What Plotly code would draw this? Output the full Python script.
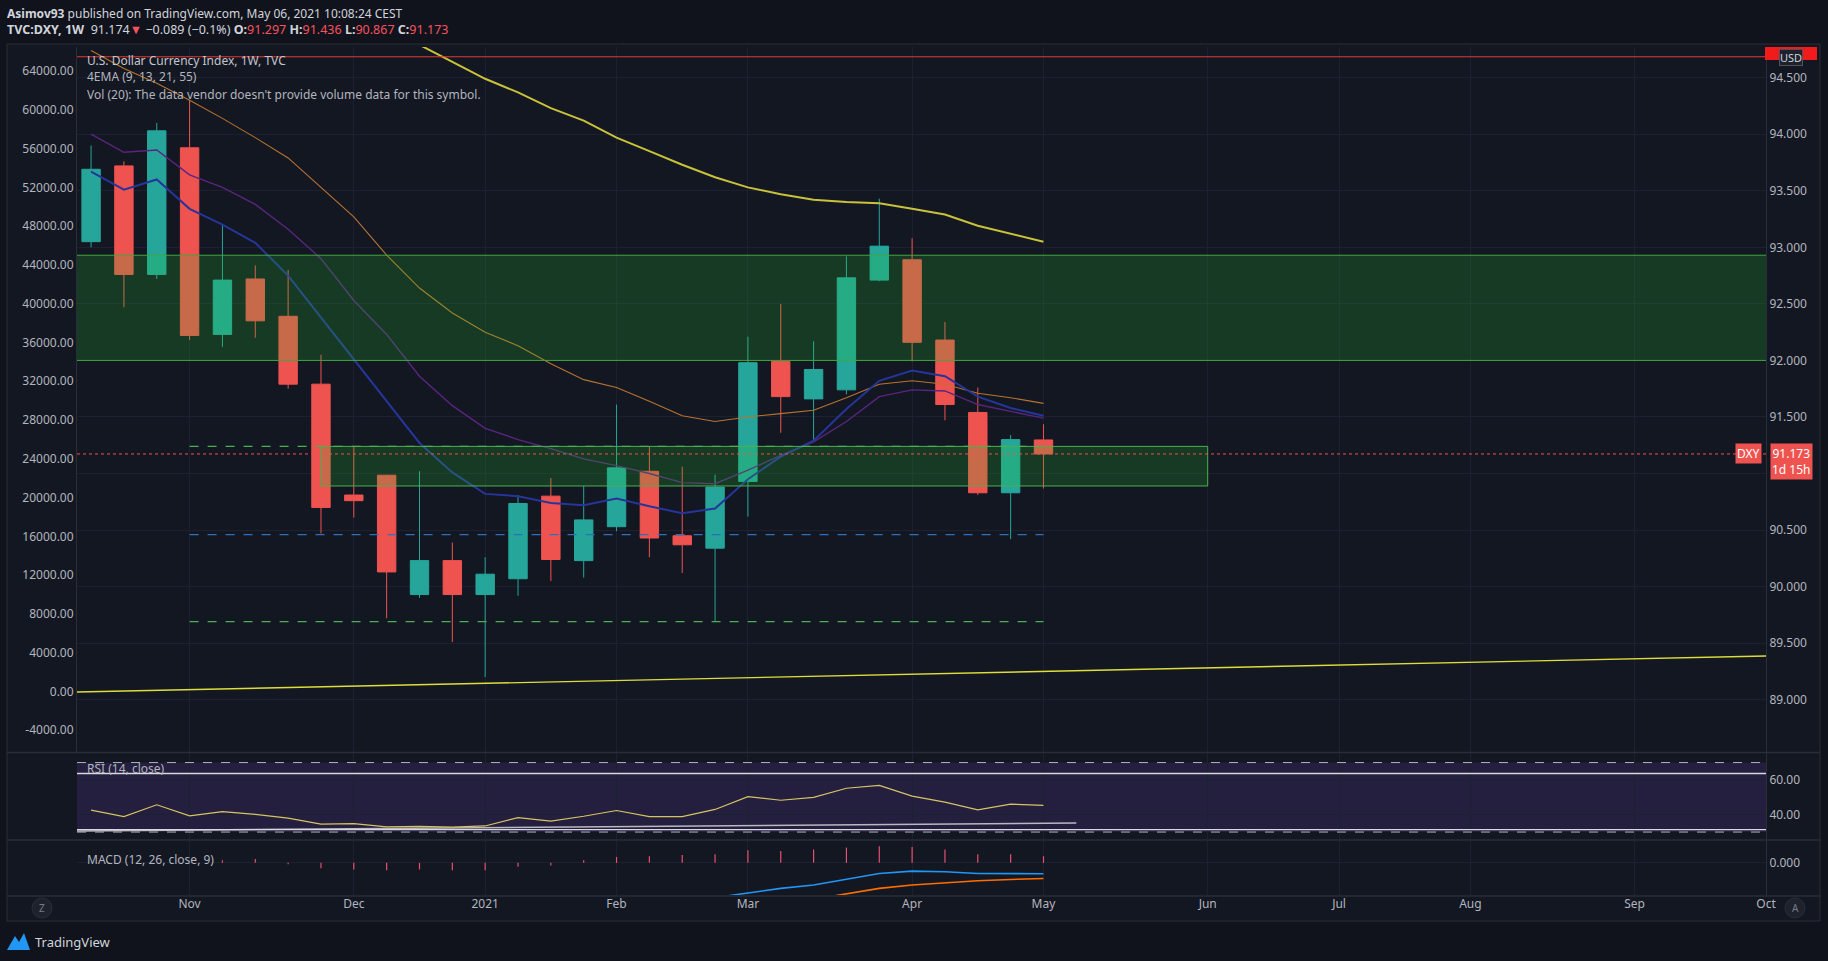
import plotly.graph_objects as go
import pandas as pd

# ---------------- data ----------------
dates = pd.date_range("2020-10-12", periods=30, freq="7D").strftime("%Y-%m-%d").tolist()

opens = [93.05, 93.72, 92.76, 93.88, 92.23, 92.72, 92.39, 91.79, 90.81, 90.985,
         89.93, 90.23, 89.93, 90.07, 90.80, 90.23, 90.53, 91.02, 90.45, 90.34,
         90.93, 91.99, 91.66, 91.74, 92.71, 92.89, 92.18, 91.54, 90.83, 91.297]
highs = [93.90, 93.76, 94.10, 94.30, 93.20, 92.84, 92.80, 92.05, 91.24, 90.99,
         91.02, 90.39, 90.26, 90.81, 90.96, 90.89, 91.61, 91.24, 91.06, 90.99,
         92.21, 92.50, 92.17, 92.92, 93.43, 93.08, 92.34, 91.76, 91.34, 91.436]
lows = [93.00, 92.47, 92.72, 92.18, 92.12, 92.20, 91.75, 90.47, 90.61, 89.72,
        89.90, 89.51, 89.20, 89.92, 90.05, 90.08, 90.49, 90.26, 90.12, 89.69,
        90.62, 91.36, 91.29, 91.70, 92.70, 91.99, 91.47, 90.81, 90.42, 90.867]
closes = [93.69, 92.76, 94.03, 92.22, 92.71, 92.35, 91.79, 90.70, 90.76, 90.13,
          90.23, 89.93, 90.11, 90.735, 90.24, 90.59, 91.05, 90.43, 90.37, 90.88,
          91.98, 91.68, 91.92, 92.73, 93.01, 92.16, 91.61, 90.83, 91.30, 91.173]

ema9 = [93.67, 93.51, 93.60, 93.34, 93.20, 93.04, 92.75, 92.38, 92.01, 91.64,
        91.27, 91.01, 90.82, 90.80, 90.74, 90.72, 90.78, 90.71, 90.65, 90.69,
        90.95, 91.15, 91.29, 91.57, 91.82, 91.91, 91.86, 91.68, 91.58, 91.51]
ema13 = [94.00, 93.84, 93.86, 93.64, 93.53, 93.38, 93.16, 92.90, 92.53, 92.23,
         91.86, 91.60, 91.40, 91.30, 91.22, 91.13, 91.07, 91.00, 90.92, 90.91,
         91.03, 91.16, 91.28, 91.46, 91.68, 91.74, 91.73, 91.61, 91.55, 91.49]
ema21 = [94.74, 94.58, 94.45, 94.30, 94.14, 93.97, 93.79, 93.53, 93.27, 92.93,
         92.64, 92.42, 92.25, 92.13, 91.97, 91.83, 91.76, 91.64, 91.51, 91.46,
         91.50, 91.53, 91.56, 91.67, 91.79, 91.82, 91.79, 91.71, 91.67, 91.62]
ema55 = [None, None, None, None, None, None, None, None, 95.12, 94.95,
         94.79, 94.64, 94.49, 94.37, 94.23, 94.12, 93.97, 93.85, 93.73, 93.62,
         93.53, 93.47, 93.42, 93.40, 93.39, 93.34, 93.29, 93.19, 93.12, 93.05]

rsi = [42.6, 38.9, 45.7, 39.3, 41.7, 40.2, 38.0, 34.6, 34.8, 33.0,
       33.3, 32.8, 33.5, 38.3, 36.3, 39.1, 42.4, 38.9, 38.9, 43.0,
       50.4, 48.3, 50.0, 55.2, 56.9, 50.7, 47.2, 42.8, 46.1, 45.4]

macd_hist = [None, None, None, None, 0.08, 0.12, -0.04, -0.16, -0.20, -0.22,
             -0.20, -0.22, -0.22, -0.12, -0.08, 0.08, 0.18, 0.20, 0.24, 0.26,
             0.38, 0.36, 0.40, 0.46, 0.50, 0.48, 0.40, 0.26, 0.26, 0.20]
macd_line = [None] * 19 + [-1.05, -0.92, -0.77, -0.67, -0.50, -0.32, -0.25, -0.27, -0.32, -0.32, -0.33]
macd_signal = [None] * 22 + [-1.10, -0.94, -0.77, -0.67, -0.60, -0.54, -0.50, -0.47]

# drawings
big_zone = [92.00, 92.93]
small_zone = [90.89, 91.24]
small_zone_x = ["2020-11-30", "2021-06-07"]
dash_levels = [91.24, 90.46, 89.69]
dash_colors = ["#4caf50", "#2f6fb8", "#4caf50"]
dash_x = ["2020-11-02", "2021-05-03"]
red_level = 94.685
last_price = 91.173
trend_x = ["2020-10-09", "2021-10-04"]
trend_y = [89.068, 89.387]
rsi_trend_x = ["2020-10-09", "2021-05-10"]
rsi_trend_y = [30.6, 35.2]
rsi_white_levels = [63.7, 31.4]
rsi_bands = [30, 70]

x_range = ["2020-10-09", "2021-10-04"]
x_tickvals = ["2020-11-02", "2020-12-07", "2021-01-04", "2021-02-01", "2021-03-01", "2021-04-05",
              "2021-05-03", "2021-06-07", "2021-07-05", "2021-08-02", "2021-09-06", "2021-10-04"]
x_ticktext = ["Nov", "Dec", "2021", "Feb", "Mar", "Apr", "May", "Jun", "Jul", "Aug", "Sep", "Oct"]
price_ticks = [89.0, 89.5, 90.0, 90.5, 91.0, 91.5, 92.0, 92.5, 93.0, 93.5, 94.0, 94.5]
price_ticktext = ["89.000", "89.500", "90.000", "90.500", "", "91.500",
                  "92.000", "92.500", "93.000", "93.500", "94.000", "94.500"]
vol_ticks = [-4000, 0, 4000, 8000, 12000, 16000, 20000, 24000, 28000, 32000,
             36000, 40000, 44000, 48000, 52000, 56000, 60000, 64000]

# ---------------- geometry helpers ----------------
W, H = 1828, 961
PL, PR, PT, PB = 77, 1766, 47, 895


def px(x):
    return (x - PL) / (PR - PL)


def py(y):
    return (PB - y) / (PB - PT)


TXT = "#b2b5be"
GRID = "#1c2030"
SEP = "#2a2e39"
RED = "#ef5350"
TEAL = "#26a69a"
ZONE_FILL = "rgba(39,198,44,0.2)"
FONT = "Noto Sans"

fig = go.Figure()

fig.add_trace(go.Candlestick(
    x=dates, open=opens, high=highs, low=lows, close=closes,
    increasing=dict(line=dict(color=TEAL, width=1), fillcolor=TEAL),
    decreasing=dict(line=dict(color=RED, width=1), fillcolor=RED),
    whiskerwidth=0, hoverinfo="skip", xaxis="x", yaxis="y"))

for vals, col, w in [(ema55, "#c9c23a", 2.0), (ema21, "#b8732f", 1.1),
                     (ema13, "#5a2580", 1.4), (ema9, "#26359a", 2.0)]:
    fig.add_trace(go.Scatter(x=dates, y=vals, mode="lines", line=dict(color=col, width=w),
                             hoverinfo="skip", yaxis="y"))

fig.add_trace(go.Scatter(x=trend_x, y=trend_y, mode="lines",
                         line=dict(color="#dede3a", width=1.4), hoverinfo="skip", yaxis="y"))

# empty left volume axis
fig.add_trace(go.Scatter(x=[dates[0]], y=[0], mode="markers", marker=dict(opacity=0),
                         hoverinfo="skip", yaxis="y2"))

# RSI
fig.add_trace(go.Scatter(x=rsi_trend_x, y=rsi_trend_y, mode="lines",
                         line=dict(color="#b8b8c0", width=1.5), hoverinfo="skip", yaxis="y3"))
fig.add_trace(go.Scatter(x=dates, y=rsi, mode="lines", line=dict(color="#d6c463", width=1.2),
                         hoverinfo="skip", yaxis="y3"))

# MACD
fig.add_trace(go.Bar(x=dates, y=macd_hist, marker=dict(color="#ef4f72", line=dict(width=0)),
                     width=1000 * 3600 * 24 * 0.25, hoverinfo="skip", yaxis="y4"))
fig.add_trace(go.Scatter(x=dates, y=macd_line, mode="lines", line=dict(color="#2196f3", width=1.6),
                         hoverinfo="skip", yaxis="y4"))
fig.add_trace(go.Scatter(x=dates, y=macd_signal, mode="lines", line=dict(color="#ff6d00", width=1.6),
                         hoverinfo="skip", yaxis="y4"))

shapes = []
# chart frame
shapes.append(dict(type="rect", xref="paper", yref="paper", x0=px(7), x1=px(1820), y0=py(921), y1=py(44),
                   fillcolor="#131722", line=dict(color=SEP, width=1), layer="below"))
# pane separators
for yy in [752.5, 840, 896]:
    shapes.append(dict(type="line", xref="paper", yref="paper", x0=px(7), x1=px(1820), y0=py(yy), y1=py(yy),
                       line=dict(color=SEP, width=1.5)))
# RSI band
shapes.append(dict(type="rect", xref="paper", yref="y3", x0=0, x1=1, y0=rsi_bands[0], y1=rsi_bands[1],
                   fillcolor="rgba(126,70,210,0.17)", line=dict(width=0), layer="below"))
for lv in rsi_bands:
    shapes.append(dict(type="line", xref="paper", yref="y3", x0=0, x1=1, y0=lv, y1=lv,
                       line=dict(color="#b0b3bc", width=1, dash="dash")))
for lv in rsi_white_levels:
    shapes.append(dict(type="line", xref="paper", yref="y3", x0=0, x1=1, y0=lv, y1=lv,
                       line=dict(color="#d8d8dc", width=1.3)))
# big green zone
shapes.append(dict(type="rect", xref="paper", yref="y", x0=0, x1=1, y0=big_zone[0], y1=big_zone[1],
                   fillcolor=ZONE_FILL, line=dict(width=0), layer="above"))
for lv in big_zone:
    shapes.append(dict(type="line", xref="paper", yref="y", x0=0, x1=1, y0=lv, y1=lv,
                       line=dict(color="#3fa83f", width=1), layer="above"))
# small zone
shapes.append(dict(type="rect", xref="x", yref="y", x0=small_zone_x[0], x1=small_zone_x[1],
                   y0=small_zone[0], y1=small_zone[1], fillcolor=ZONE_FILL,
                   line=dict(color="#4caf50", width=1), layer="above"))
# dashed levels
for lv, col in zip(dash_levels, dash_colors):
    shapes.append(dict(type="line", xref="x", yref="y", x0=dash_x[0], x1=dash_x[1], y0=lv, y1=lv,
                       line=dict(color=col, width=1.3, dash="dash"), layer="above"))
# red line and last price dotted line
shapes.append(dict(type="line", xref="paper", yref="y", x0=0, x1=1, y0=red_level, y1=red_level,
                   line=dict(color="#e53935", width=1.2), layer="above"))
shapes.append(dict(type="line", xref="paper", yref="y", x0=0, x1=1, y0=last_price, y1=last_price,
                   line=dict(color=RED, width=1, dash="dot"), layer="above"))
# top-right red price tag (covered by the USD button)
shapes.append(dict(type="rect", xref="paper", yref="paper", x0=px(1765), x1=px(1817), y0=py(60), y1=py(47),
                   fillcolor="#f21b1b", line=dict(width=0)))
# Z / A buttons
for cx in [42, 1795]:
    shapes.append(dict(type="circle", xref="paper", yref="paper", x0=px(cx - 10), x1=px(cx + 10),
                       y0=py(918), y1=py(898), fillcolor="#1e222d", line=dict(color="#2a2e39", width=1)))
# TradingView logo
shapes.append(dict(type="path", xref="paper", yref="paper",
                   path=f"M {px(7)} {py(950)} L {px(15)} {py(936)} L {px(19)} {py(942)} L {px(24)} {py(933)} "
                        f"L {px(30)} {py(950)} Z",
                   fillcolor="#2196f3", line=dict(width=0)))

ann = []


def note(x, y, text, size=12, color=TXT, xanchor="left", yanchor="middle", **kw):
    ann.append(dict(x=px(x), y=py(y), xref="paper", yref="paper", text=text, showarrow=False,
                    xanchor=xanchor, yanchor=yanchor, font=dict(family=FONT, size=size, color=color), **kw))


note(5, 13, "<b>Asimov93</b> published on TradingView.com, May 06, 2021 10:08:24 CEST", size=12, color="#d1d4dc")
r = "#f7525f"
note(5, 29, f"<b>TVC:DXY, 1W</b>  91.174<span style='color:{r}'>▼</span> −0.089 (−0.1%) "
            f"<b>O:</b><span style='color:{r}'>91.297</span> <b>H:</b><span style='color:{r}'>91.436</span> "
            f"<b>L:</b><span style='color:{r}'>90.867</span> <b>C:</b><span style='color:{r}'>91.173</span>",
     size=12.5, color="#d1d4dc")
note(85, 60, "U.S. Dollar Currency Index, 1W, TVC", size=12, color="#c3c6ce")
note(85, 77, "4EMA (9, 13, 21, 55)", size=12)
note(85, 94, "Vol (20): The data vendor doesn't provide volume data for this symbol.", size=12)
note(85, 768, "RSI (14, close)", size=12)
note(85, 859, "MACD (12, 26, close, 9)", size=12)
note(1791, 58, "USD", size=11, color="#d1d4dc", xanchor="center", bgcolor="#1e222d",
     bordercolor="#50535e", borderwidth=1, borderpad=0)
note(1748, 453, "DXY", size=12, color="#ffffff", xanchor="center", bgcolor=RED, borderpad=1)
note(1791, 461, "91.173<br>1d 15h", size=12, color="#ffffff", xanchor="center", bgcolor=RED, borderpad=1)
note(42, 908, "Z", size=10, color="#787b86", xanchor="center")
note(1795, 908, "A", size=10, color="#787b86", xanchor="center")
note(33, 942, "TradingView", size=13, color="#d1d4dc")

axis_font = dict(family=FONT, size=12, color=TXT)
fig.update_layout(
    width=W, height=H, margin=dict(l=PL, r=W - PR, t=PT, b=H - PB, pad=0),
    paper_bgcolor="#10131b", plot_bgcolor="#131722",
    showlegend=False, boxgap=0.2, hovermode=False,
    font=dict(family=FONT, color=TXT, size=12),
    xaxis=dict(type="date", range=x_range, anchor="y4", tickvals=x_tickvals, ticktext=x_ticktext,
               showgrid=True, gridcolor=GRID, gridwidth=1, zeroline=False, showline=False, ticks="",
               tickfont=axis_font, rangeslider=dict(visible=False), fixedrange=True),
    yaxis=dict(domain=[py(752), 1], side="right", anchor="x", range=[88.538, 94.771],
               tickvals=price_ticks, ticktext=price_ticktext,
               showgrid=True, gridcolor=GRID, zeroline=False, showline=True, linecolor=SEP,
               ticks="", tickfont=axis_font),
    yaxis2=dict(overlaying="y", side="left", anchor="x", range=[-6256, 66490],
                tickvals=vol_ticks, ticktext=[f"{v:.2f}" for v in vol_ticks],
                showgrid=False, zeroline=False, showline=True, linecolor=SEP, ticks="", tickfont=axis_font),
    yaxis3=dict(domain=[py(839), py(753)], side="right", anchor="x", range=[26, 75.5],
                tickvals=[40, 60], ticktext=["40.00", "60.00"], showgrid=True, gridcolor=GRID,
                zeroline=False, showline=True, linecolor=SEP, ticks="", tickfont=axis_font),
    yaxis4=dict(domain=[0, py(841)], side="right", anchor="x", range=[-0.97, 0.66],
                tickvals=[0], ticktext=["0.000"], showgrid=True, gridcolor=GRID,
                zeroline=False, showline=True, linecolor=SEP, ticks="", tickfont=axis_font),
    shapes=shapes, annotations=ann,
)

fig.write_html("out.html", config={"displayModeBar": False, "staticPlot": True},
               post_script="document.body.style.margin='0px';document.body.style.overflow='hidden';"
                           "document.body.style.background='#10131b';")
